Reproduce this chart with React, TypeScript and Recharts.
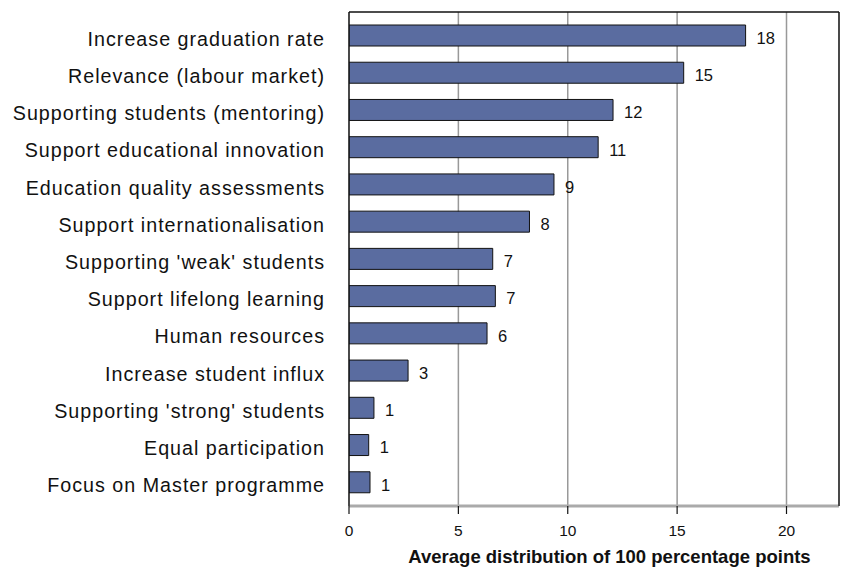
import React from "react";
import { BarChart, Bar, XAxis, YAxis, CartesianGrid, LabelList } from "recharts";

const categories = [
  "Increase graduation rate",
  "Relevance (labour market)",
  "Supporting students (mentoring)",
  "Support educational innovation",
  "Education quality assessments",
  "Support internationalisation",
  "Supporting 'weak' students",
  "Support lifelong learning",
  "Human resources",
  "Increase student influx",
  "Supporting 'strong' students",
  "Equal participation",
  "Focus on Master programme",
];

const values = [18.13, 15.3, 12.07, 11.39, 9.37, 8.25, 6.57, 6.69, 6.31, 2.7, 1.14, 0.9, 0.96];
const valueLabels = ["18", "15", "12", "11", "9", "8", "7", "7", "6", "3", "1", "1", "1"];
const xTicks = [0, 5, 10, 15, 20];
const xMax = 22.4;
const axisTitle = "Average distribution of 100 percentage points";

const data = categories.map((name, i) => ({ name, value: values[i], label: valueLabels[i] }));

const FONT = "'Liberation Sans', Arial, Helvetica, sans-serif";

const YTick = (props: any) => {
  const { x, y, payload } = props;
  return (
    <text
      x={x}
      y={y + 3}
      dy="0.355em"
      textAnchor="end"
      fontSize={19.7}
      letterSpacing={1.0}
      fill="#111"
      fontFamily={FONT}
    >
      {payload.value}
    </text>
  );
};

const ValueLabel = (props: any) => {
  const { x, y, width, height, value } = props;
  return (
    <text
      x={x + width + 11}
      y={y + height / 2 + 2.5}
      dy="0.355em"
      textAnchor="start"
      fontSize={16.5}
      fill="#111"
      fontFamily={FONT}
    >
      {value}
    </text>
  );
};

const AxisTitle = (props: any) => {
  const { viewBox } = props;
  const cx = viewBox.x + viewBox.width / 2 + 15.5;
  return (
    <text x={cx} y={563} textAnchor="middle" fontSize={18.5} fontWeight="bold" fill="#111" fontFamily={FONT}>
      {axisTitle}
    </text>
  );
};

export default function App() {
  return (
    <div style={{ position: "absolute", left: 0, top: 0, width: 846, height: 568, background: "#fff" }}>
      <BarChart
        width={846}
        height={568}
        data={data}
        layout="vertical"
        margin={{ top: 11, right: 6, bottom: 0, left: 0 }}
      >
        <CartesianGrid horizontal={false} vertical={true} stroke="#999" strokeWidth={1.5} />
        <XAxis
          type="number"
          domain={[0, xMax]}
          ticks={xTicks}
          allowDataOverflow
          height={62}
          axisLine={{ stroke: "#aaa", strokeWidth: 3 }}
          tickLine={{ stroke: "#111", strokeWidth: 1.2 }}
          tickSize={8}
          tickMargin={11}
          tick={{ fontSize: 15.5, fill: "#111", fontFamily: FONT }}
          label={<AxisTitle />}
        />
        <XAxis
          xAxisId="top"
          orientation="top"
          type="number"
          domain={[0, xMax]}
          allowDataOverflow
          height={1}
          tick={false}
          tickLine={false}
          axisLine={{ stroke: "#111", strokeWidth: 1.3 }}
        />
        <YAxis
          type="category"
          dataKey="name"
          width={349}
          padding={{ top: 5, bottom: 5 }}
          axisLine={{ stroke: "#111", strokeWidth: 1.3 }}
          tickLine={false}
          tickSize={0}
          tickMargin={24}
          interval={0}
          tick={<YTick />}
        />
        <YAxis
          yAxisId="right"
          orientation="right"
          type="category"
          dataKey="name"
          width={1}
          tick={false}
          tickLine={false}
          axisLine={{ stroke: "#111", strokeWidth: 1.3 }}
        />
        <Bar dataKey="value" fill="#5a6ca0" stroke="#111" strokeWidth={1} barSize={21} isAnimationActive={false}>
          <LabelList dataKey="label" content={<ValueLabel />} />
        </Bar>
      </BarChart>
    </div>
  );
}
